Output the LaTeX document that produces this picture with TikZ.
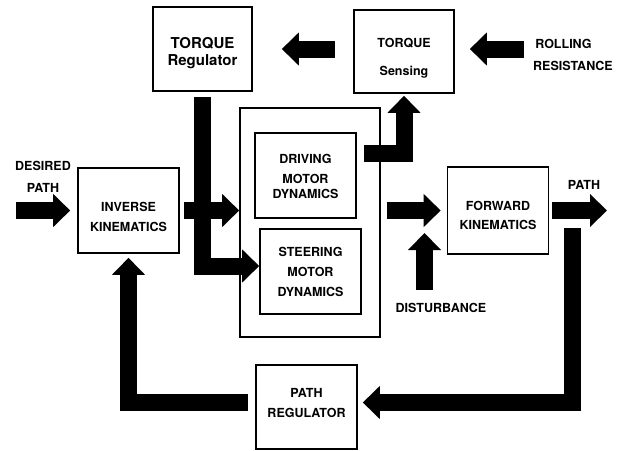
\documentclass[tikz,border=0pt]{standalone}
\usepackage{fontspec}
\setmainfont{TeX Gyre Heros}
\usetikzlibrary{arrows.meta}

\tikzset{
  block/.style={draw, line width=1.6pt, minimum width=101pt, minimum height=85pt,
    inner sep=0pt, align=center, font=\fontsize{12.5}{15}\selectfont\bfseries},
  lbl/.style={inner sep=0pt, align=center, font=\fontsize{12.5}{22}\selectfont\bfseries},
  bigarrow/.style={line width=17pt, -{Triangle[length=17pt,width=32pt]}},
}

\begin{document}
\begin{tikzpicture}[x=1pt,y=-1pt]

            \def\Ymid{210.5};
            \def\Ytop{49};
            \def\Xdist{424.5};
            \def\Xfb{572.5};

            \useasboundingbox (0,0) rectangle (624,450);

            % blocks
            \node[block, minimum width=99pt, minimum height=84pt,
              font=\fontsize{15}{17}\selectfont\bfseries] (treg) at (202.5, \Ytop) {\rule{0pt}{20pt}TORQUE\\Regulator};
            \node[block, minimum width=100pt, minimum height=83pt] (tsense) at (404, 51.5) {\rule{0pt}{22pt}TORQUE\\[13pt]Sensing};
            \node[block, minimum width=140pt, minimum height=229pt] (motor) at (310, 222.5) {};
            \node[block] (drive) at (305.5, 175.5) {\rule{0pt}{12pt}DRIVING\\[5pt]MOTOR\\DYNAMICS};
            \node[block] (steer) at (310.5, 271.5) {STEERING\\[5pt]MOTOR\\[5pt]DYNAMICS};
            \node[block] (ik) at (128.5, \Ymid) {\rule{0pt}{22pt}INVERSE\\[5pt]KINEMATICS};
            \node[block, minimum height=87pt] (fwd) at (498, \Ymid) {\rule{0pt}{19pt}FORWARD\\[4pt]KINEMATICS};
            \node[block, minimum height=84pt] (preg) at (306.5, 407) {PATH\\[5pt]REGULATOR\rule[-8pt]{0pt}{8pt}};

            % labels
            \node[lbl] (desired) at (43, 177) {DESIRED\\PATH};
            \node[lbl] (pathlbl) at (584, 185) {PATH};
            \node[lbl] (dist) at (441, 308) {DISTURBANCE};
            \node[lbl, align=left, anchor=west] (rolling) at (533, 55) {\,ROLLING\\RESISTANCE};

            \coordinate (dpin) at (16, \Ymid);
            \coordinate (pathout) at (607, \Ymid);
            \coordinate (rollin) at (524, \Ytop);
            \coordinate (distin) at (\Xdist, 290);
            \coordinate (distout) at (\Xdist, 233);
            \coordinate (fb) at (\Xfb, 228);

            % arrows
            \draw[bigarrow, shorten >=7pt] (dpin) -- (ik.west);
            \draw[bigarrow, shorten <=4pt] (ik.east) -- (ik.east -| motor.west);
            \draw[bigarrow] ([yshift=-5pt]treg.south) |- ([yshift=5.5pt]steer.west);
            \draw[bigarrow, shorten >=2pt] ([xshift=7pt, yshift=22.5pt]drive.east) -| (tsense.south);
            \draw[bigarrow, shorten <=18pt, shorten >=29pt] (tsense.west |- treg.east) -- (treg.east);
            \draw[bigarrow, shorten >=15pt] (rollin) -- (rollin -| tsense.east);
            \draw[bigarrow, shorten <=6pt, shorten >=6pt] (fwd.west -| motor.east) -- (fwd.west);
            \draw[bigarrow] (distin) -- (distout);
            \draw[bigarrow, shorten <=3pt] (fwd.east) -- (pathout);
            \draw[bigarrow, shorten >=5pt] (fb) |- ([yshift=4.5pt]preg.east);
            \draw[bigarrow, shorten <=7pt, shorten >=4pt] ([yshift=4.5pt]preg.west) -| (ik.south);
        \end{tikzpicture}
\end{document}
